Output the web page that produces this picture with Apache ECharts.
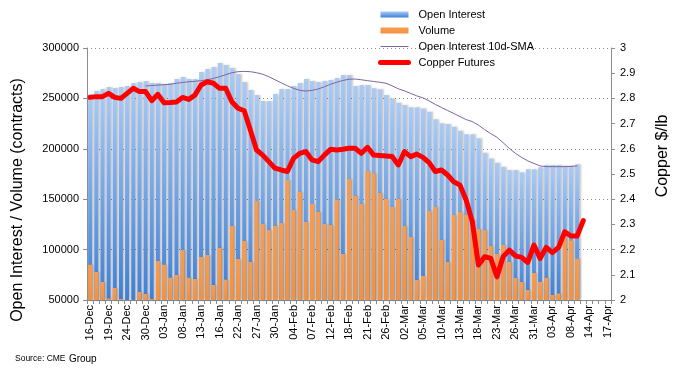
<!DOCTYPE html>
<html>
<head>
<meta charset="utf-8">
<script src="https://cdn.jsdelivr.net/npm/echarts@6/dist/echarts.min.js"></script>
<style>
html,body{margin:0;padding:0;background:#fff;}
#chart{width:674px;height:373px;}
</style>
</head>
<body>
<div id="chart"></div>
<script>
var categories = [
'16-Dec','17-Dec','18-Dec','19-Dec','20-Dec','23-Dec','24-Dec','26-Dec','27-Dec','30-Dec','31-Dec',
'02-Jan','03-Jan','06-Jan','07-Jan','08-Jan','09-Jan','10-Jan','13-Jan','14-Jan','15-Jan','16-Jan','17-Jan','21-Jan','22-Jan','23-Jan','24-Jan','27-Jan','28-Jan','29-Jan','30-Jan','31-Jan',
'03-Feb','04-Feb','05-Feb','06-Feb','07-Feb','10-Feb','11-Feb','12-Feb','13-Feb','14-Feb','18-Feb','19-Feb','20-Feb','21-Feb','24-Feb','25-Feb','26-Feb','27-Feb','28-Feb',
'02-Mar','03-Mar','04-Mar','05-Mar','06-Mar','09-Mar','10-Mar','11-Mar','12-Mar','13-Mar','16-Mar','17-Mar','18-Mar','19-Mar','20-Mar','23-Mar','24-Mar','25-Mar','26-Mar','27-Mar','30-Mar','31-Mar',
'01-Apr','02-Apr','03-Apr','06-Apr','07-Apr','08-Apr','09-Apr','13-Apr','14-Apr','15-Apr','16-Apr','17-Apr'
];

var openInterest = [
254000,257300,259300,261300,260300,261300,262300,265300,266300,267200,265300,
265300,264300,265300,269200,271200,269200,269200,276200,279200,281100,285100,283100,280200,274200,266300,258300,253400,247400,247400,254400,259300,
259300,262300,265300,269200,267200,266300,267200,268200,270200,273200,273200,262300,263300,263300,260000,259000,253400,250000,245700,
243400,241100,241100,240100,236800,229200,225300,224600,221900,218000,214400,214400,210400,196100,190500,186200,182300,179000,179000,176700,179600,179600,
181600,184000,184000,184000,183300,183300,184600,null,null,null,null,null
];

var volume = [
85000,77800,67900,51500,62000,51000,46000,44000,58000,56000,51000,
88700,85000,72100,74800,99600,72100,70800,92700,94600,64900,101600,70200,123400,90700,108500,87700,148200,125400,119400,123400,126400,
169000,139300,157100,127400,145200,137300,125400,124400,149200,95600,170000,153200,145200,178000,175700,156100,150200,142300,150200,
123400,112500,69800,73800,138300,142300,109500,87700,134300,137300,134300,130000,120400,119400,103600,95600,104600,87700,71800,67900,59900,76800,
68000,72000,55000,56500,113000,109000,91000,null,null,null,null,null
];

var oiSMA10 = [
null,null,null,null,null,null,null,null,null,262300,262800,
263200,263600,264000,265000,265800,266500,267000,267600,268500,269800,271500,273500,275500,276500,276800,276500,275500,274000,271500,268500,265500,
262500,260000,258000,257300,258000,259300,261500,264000,266000,267800,269000,269200,268500,267600,266800,266000,265000,262500,259500,
257500,255000,252500,250500,247500,244000,241000,238000,235000,232000,229000,227000,223500,219000,215000,211500,206000,200500,195500,191500,188000,185500,
183000,182300,182300,182300,182300,182500,183000,null,null,null,null,null
];

var copper = [
2.804,2.807,2.807,2.820,2.804,2.800,2.820,2.840,2.827,2.827,2.791,
2.816,2.783,2.784,2.786,2.804,2.796,2.813,2.853,2.866,2.860,2.840,2.840,2.787,2.761,2.751,2.675,2.595,2.575,2.549,2.523,2.516,
2.510,2.562,2.582,2.589,2.556,2.549,2.575,2.598,2.595,2.598,2.602,2.602,2.582,2.606,2.575,2.573,2.571,2.569,2.536,
2.589,2.569,2.579,2.566,2.545,2.510,2.516,2.496,2.469,2.456,2.397,2.311,2.139,2.172,2.165,2.092,2.172,2.198,2.175,2.169,2.149,2.218,
2.165,2.209,2.188,2.209,2.271,2.254,2.254,2.315,null,null,null,null
];

var seriesNames = ['Open Interest','Volume','Open Interest 10d-SMA','Copper Futures'];

var chart = echarts.init(document.getElementById('chart'), null, {renderer:'canvas'});
var axisGray = '#8c8c8c';
var font = 'Liberation Sans, Arial, sans-serif';
var hiddenSymbol = {color: 'rgba(0,0,0,0)', borderColor: 'rgba(0,0,0,0)', borderWidth: 0, opacity: 0};

var option = {
  animation: false,
  backgroundColor: '#ffffff',
  textStyle: {fontFamily: font},
  grid: {left: 87, right: 63, top: 48, bottom: 73, containLabel: false},
  legend: {
    orient: 'vertical',
    left: 373, top: 4,
    itemWidth: 28, itemHeight: 6, itemGap: 5,
    textStyle: {fontSize: 11, color: '#000', fontFamily: font, padding: [0,0,0,5]},
    data: [
      {name: seriesNames[0], icon: 'rect'},
      {name: seriesNames[1], icon: 'rect'},
      {name: seriesNames[2], itemStyle: hiddenSymbol, lineStyle: {width: 1, color: '#8064a2'}},
      {name: seriesNames[3], itemStyle: hiddenSymbol, lineStyle: {width: 5, color: '#ff0000', cap: 'round'}}
    ]
  },
  xAxis: {
    type: 'category',
    data: categories,
    boundaryGap: true,
    axisLine: {lineStyle: {color: axisGray, width: 1}},
    axisTick: {show: true, interval: 0, length: 4, lineStyle: {color: axisGray}},
    axisLabel: {interval: 2, rotate: 90, fontSize: 11, color: '#000', margin: 5, fontFamily: font},
    splitLine: {show: false}
  },
  yAxis: [
    {
      type: 'value', min: 50000, max: 300000, interval: 50000,
      axisLine: {show: true, lineStyle: {color: axisGray}},
      axisTick: {show: true, length: 4, lineStyle: {color: axisGray}},
      axisLabel: {fontSize: 11, color: '#000', margin: 8, fontFamily: font, formatter: function(v){return String(v);}},
      splitLine: {show: true, lineStyle: {color: '#8a8a8a', type: [1,3], width: 1}}
    },
    {
      type: 'value', min: 2, max: 3, interval: 0.1, position: 'right',
      axisLine: {show: true, lineStyle: {color: axisGray}},
      axisTick: {show: true, length: 4, lineStyle: {color: axisGray}},
      axisLabel: {fontSize: 11, color: '#000', margin: 9, fontFamily: font,
        formatter: function(v){return String(Math.round(v*10)/10);}},
      splitLine: {show: false}
    }
  ],
  series: [
    {
      name: seriesNames[0], type: 'bar', data: openInterest, yAxisIndex: 0,
      barWidth: 4, barGap: '-100%',
      itemStyle: {
        color: new echarts.graphic.LinearGradient(0,0,0,1,[{offset:0,color:'#a9cbf8'},{offset:1,color:'#3f7fd4'}]),
        shadowColor: 'rgba(0,0,0,0.22)', shadowBlur: 2, shadowOffsetX: 2, shadowOffsetY: 0
      }
    },
    {
      name: seriesNames[1], type: 'bar', data: volume, yAxisIndex: 0,
      barWidth: 4, barGap: '-100%',
      itemStyle: {
        color: new echarts.graphic.LinearGradient(0,0,0,1,[{offset:0,color:'#f89c52'},{offset:1,color:'#f5913f'}]),
        shadowColor: 'rgba(0,0,0,0.18)', shadowBlur: 2, shadowOffsetX: 1.5, shadowOffsetY: 0
      }
    },
    {
      name: seriesNames[2], type: 'line', data: oiSMA10, yAxisIndex: 0,
      symbol: 'none', smooth: false,
      lineStyle: {color: '#8064a2', width: 1},
      itemStyle: {color: '#8064a2'}
    },
    {
      name: seriesNames[3], type: 'line', data: copper, yAxisIndex: 1,
      symbol: 'none',
      lineStyle: {color: '#ff0000', width: 5, cap: 'round', join: 'round'},
      itemStyle: {color: '#ff0000'}
    }
  ],
  graphic: [
    {type: 'text', x: 18, y: 200, rotation: Math.PI/2,
     style: {text: 'Open Interest / Volume (contracts)', font: '16px ' + font, fill: '#000', align: 'center', verticalAlign: 'middle'}},
    {type: 'text', x: 663, y: 156, rotation: Math.PI/2,
     style: {text: 'Copper $/lb', font: '16px ' + font, fill: '#000', align: 'center', verticalAlign: 'middle'}},
    {type: 'text', x: 15, y: 359,
     style: {text: '{a|Source: CME} {b|Group}', verticalAlign: 'middle',
       rich: {a: {fontSize: 8.5, fontFamily: font, fill: '#000'}, b: {fontSize: 10, fontFamily: font, fill: '#000'}}}}
  ]
};
chart.setOption(option);
</script>
</body>
</html>
